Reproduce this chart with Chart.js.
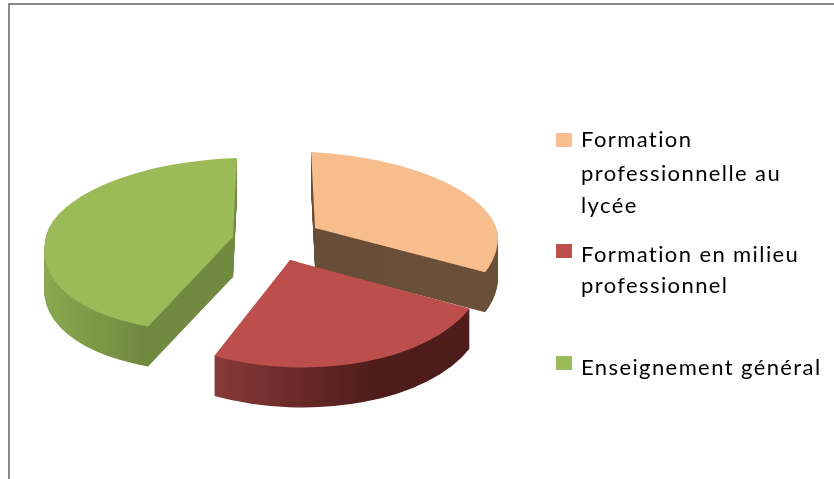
<!DOCTYPE html>
<html lang="fr">
<head>
    <meta charset="UTF-8">
    <title>Répartition de la formation</title>
    <script src="https://cdn.jsdelivr.net/npm/chart.js"></script>
    <style>
        html, body { margin: 0; padding: 0; background: #fff; overflow: hidden; }
        #frame { position: absolute; left: 8px; top: 3px; width: 830px; height: 480px; border-left: 2px solid #888; border-top: 2px solid #888; }
        #chart { position: absolute; left: 0; top: 0; }
        .swatch { position: absolute; left: 556px; width: 16px; height: 14px; }
        .line { position: absolute; left: 581px; font: 22px/26px Lato, sans-serif; letter-spacing: 1.4px; color: #000; white-space: nowrap; }
    </style>
</head>
<body>
    <div id="frame"></div>
    <canvas id="chart" width="834" height="479"></canvas>

    <script>
        // Data
        const categories = ['Formation professionnelle au lycée', 'Formation en milieu professionnel', 'Enseignement général'];
        const values = [31, 25, 44];
        const legendLines = [
            ['Formation', 'professionnelle au', 'lycée'],
            ['Formation en milieu', 'professionnel'],
            ['Enseignement général']
        ];
        const topColors = ['#F8BD8C', '#BC4E4B', '#9BBB59'];

        // Legend placement, top of swatch and top of each text line
        const swatchTops = [133, 244, 356];
        const lineTops = [[126, 160, 192], [241, 272], [354]];

        // Fake 3D: each slice gets its own ellipse. Upper and lower halves differ a bit
        // because the original has perspective (nearer part of the pie is bigger).
        const sliceViews = [
            { x: 315, y: 228, rx: 183, upY: 76, downY: 97, tilt: 0.05, upLean: 0.05, downLean: 0 },
            { x: 290, y: 260, rx: 195, upY: 100, downY: 107, tilt: 0.05, upLean: 0, downLean: -0.04 },
            { x: 233, y: 237, rx: 188, upY: 79, downY: 94, tilt: -0.03, upLean: -0.05, downLean: -0.18 }
        ];
        const depth = 40;
        const drawOrder = [2, 0, 1];

        function sideFill(ctx, index, R) {
            const g = ctx.createLinearGradient(-R, 0, R, 0);
            if (index === 0) {
                g.addColorStop(0, '#664C37');
                g.addColorStop(1, '#6A4F39');
            } else if (index === 1) {
                g.addColorStop(0, '#8A3B3A');
                g.addColorStop(0.3, '#8A3B3A');
                g.addColorStop(0.72, '#4E1C1B');
                g.addColorStop(1, '#4E1C1B');
            } else {
                g.addColorStop(0, '#8BAA50');
                g.addColorStop(0.3, '#708B40');
                g.addColorStop(1, '#708B40');
            }
            return g;
        }

        function drawHalf(ctx, arc, view, R, upper, dy, fill) {
            const sy = (upper ? view.upY : view.downY) / R;
            const lean = upper ? view.upLean : view.downLean;
            const sx = view.rx / R;
            ctx.save();
            ctx.transform(sx, view.tilt * sx, lean * sy, sy, view.x, view.y + dy);
            ctx.beginPath();
            // halves overlap a few pixels so no seam shows at the join
            if (upper) ctx.rect(-R - 2, -R - 2, 2 * R + 4, R + 6);
            else ctx.rect(-R - 2, -4, 2 * R + 4, R + 6);
            ctx.clip();
            const copy = Object.assign(Object.create(Object.getPrototypeOf(arc)), arc);
            copy.options = Object.assign({}, arc.options, { backgroundColor: fill, borderWidth: 0 });
            copy.x = 0;
            copy.y = 0;
            copy.draw(ctx);
            ctx.restore();
        }

        const pie3d = {
            id: 'pie3d',
            beforeDatasetsDraw(chart) {
                const ctx = chart.ctx;
                const arcs = chart.getDatasetMeta(0).data;
                drawOrder.forEach(i => {
                    const arc = arcs[i];
                    const view = sliceViews[i];
                    const R = arc.outerRadius;
                    const side = sideFill(ctx, i, R);
                    for (let dy = depth; dy >= 1; dy--) {
                        drawHalf(ctx, arc, view, R, true, dy, side);
                        drawHalf(ctx, arc, view, R, false, dy, side);
                    }
                    drawHalf(ctx, arc, view, R, true, 0, topColors[i]);
                    drawHalf(ctx, arc, view, R, false, 0, topColors[i]);
                });
                return false; // library's flat pie is replaced by the above
            }
        };

        new Chart(document.getElementById('chart'), {
            type: 'pie',
            data: {
                labels: categories,
                datasets: [{ data: values, backgroundColor: topColors, borderWidth: 0 }]
            },
            options: {
                responsive: false,
                animation: false,
                events: [],
                plugins: { legend: { display: false }, tooltip: { enabled: false } }
            },
            plugins: [pie3d]
        });

        // Legend, real text on the page
        legendLines.forEach((lines, i) => {
            const box = document.createElement('div');
            box.className = 'swatch';
            box.style.top = swatchTops[i] + 'px';
            box.style.background = topColors[i];
            document.body.appendChild(box);
            lines.forEach((text, j) => {
                const el = document.createElement('div');
                el.className = 'line';
                el.style.top = lineTops[i][j] + 'px';
                el.textContent = text;
                document.body.appendChild(el);
            });
        });
    </script>
</body>
</html>
